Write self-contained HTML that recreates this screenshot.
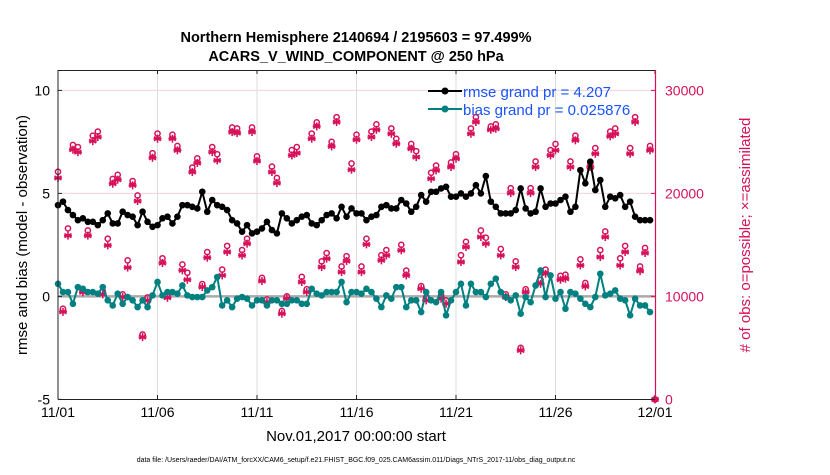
<!DOCTYPE html>
<html><head><meta charset="utf-8"><style>
body{margin:0;background:#fff;font-family:"Liberation Sans",sans-serif}
svg text{font-family:"Liberation Sans",sans-serif}
</style></head><body>
<svg id="c" width="830" height="470" xmlns="http://www.w3.org/2000/svg">
<text x="356" y="42" text-anchor="middle" font-size="14.5" font-weight="bold">Northern Hemisphere 2140694 / 2195603 = 97.499%</text>
<text x="356" y="61" text-anchor="middle" font-size="14.5" font-weight="bold">ACARS_V_WIND_COMPONENT @ 250 hPa</text>
<text transform="translate(27,235) rotate(-90)" text-anchor="middle" font-size="15">rmse and bias (model - observation)</text>
<text transform="translate(750,235) rotate(-90)" text-anchor="middle" font-size="15" fill="#d6115a"># of obs: o=possible; ×=assimilated</text>
<text x="356" y="441" text-anchor="middle" font-size="15">Nov.01,2017 00:00:00 start</text>
<text x="356" y="462" text-anchor="middle" font-size="7">data file: /Users/raeder/DAI/ATM_forcXX/CAM6_setup/f.e21.FHIST_BGC.f09_025.CAM6assim.011/Diags_NTrS_2017-11/obs_diag_output.nc</text>
<g id="grid"></g><g id="marks"></g><g id="axes"></g>
<g>
<line x1="428" y1="91" x2="462" y2="91" stroke="#000" stroke-width="2"/><circle cx="445" cy="91" r="3.5" fill="#000"/>
<line x1="428" y1="109" x2="462" y2="109" stroke="#008080" stroke-width="2"/><circle cx="445" cy="109" r="3.5" fill="#008080"/>
<text x="463" y="97" font-size="15" fill="#1a53ff">rmse grand pr = 4.207</text>
<text x="463" y="115" font-size="15" fill="#1a53ff">bias grand pr = 0.025876</text>
</g>
</svg>
<script>
const rmse=[4.43,4.6,4.19,3.95,3.7,3.79,3.62,3.62,3.46,3.7,4.03,3.54,3.54,4.11,3.95,3.87,3.46,4.11,3.62,3.38,3.46,3.79,3.87,3.54,3.87,4.43,4.43,4.35,4.27,5.08,4.11,4.68,4.43,4.35,4.19,3.7,3.54,3.14,3.46,3.06,3.14,3.3,3.62,3.22,3.06,4.03,3.79,3.54,3.7,3.87,3.95,3.54,3.46,3.7,3.95,4.03,3.79,4.35,3.87,4.27,4.03,4.03,3.7,3.87,3.95,4.35,4.43,4.27,4.27,4.68,4.51,4.11,4.35,4.92,4.6,5.08,5.08,5.24,5.32,4.84,4.84,5.0,4.84,5.0,5.4,5.0,5.84,4.6,4.35,4.03,4.03,4.03,4.19,5.24,4.27,4.03,4.11,5.24,4.35,4.51,4.51,4.68,4.84,4.11,4.35,6.13,5.49,6.54,5.16,5.65,4.35,4.84,4.76,4.92,4.35,4.6,3.87,3.7,3.7,3.7];
const bias=[0.61,0.21,0.21,-0.36,0.45,0.37,0.21,0.21,0.13,0.45,-0.19,-0.44,0.13,-0.36,-0.03,-0.19,-0.52,-0.19,-0.52,0.05,0.7,0.05,0.21,0.21,0.13,0.53,0.05,-0.03,-0.03,-0.03,0.29,0.45,0.94,-0.44,-0.19,-0.52,-0.11,-0.03,-0.11,-0.44,-0.19,-0.19,-0.44,-0.19,-0.19,-0.36,-0.36,-0.19,-0.19,-0.36,-0.36,0.37,0.13,0.05,0.21,0.21,0.21,0.7,-0.28,0.21,0.21,0.13,0.37,0.21,-0.11,-0.52,0.05,-0.11,0.45,0.45,-0.52,-0.19,-0.19,-0.76,0.21,-0.19,-0.28,0.21,-0.92,-0.19,0.21,0.61,-0.44,0.61,0.21,0.21,-0.03,0.61,0.86,0.21,-0.03,-0.19,0.05,-0.84,-0.03,-0.28,0.53,1.26,-0.03,1.02,-0.11,0.21,-0.6,0.21,0.13,-0.11,-0.36,-0.52,-0.03,1.1,0.05,0.13,0.29,-0.11,-0.19,-0.92,-0.11,-0.44,-0.44,-0.76];
const nAssim=[21500,8500,15900,24240,24000,10400,15900,25080,25470,10200,14950,20940,21330,9940,12800,20780,19260,6050,9610,23460,25310,13240,9870,25310,24180,12530,11620,22070,22950,10910,13760,24010,23200,12040,14310,25960,25860,13980,15120,25960,23140,11490,9450,22070,21000,8320,9780,23690,23920,11390,10420,25310,26500,12850,13660,24560,26930,12360,13430,22300,25210,12360,15050,25470,26180,13500,13980,25790,24820,14470,12040,24340,23530,10750,9610,21430,22230,9780,9290,22560,23370,13340,14790,25790,26930,15760,15120,26180,26280,13980,9940,20030,12850,4760,10420,20030,22560,11230,12200,23690,24180,11620,11720,22560,25150,13010,10970,22560,23850,13820,15760,25540,25790,13010,14310,23850,26930,12460,14210,24180,0];
const nPoss=[22100,8800,16600,24700,24500,10700,16400,25600,26000,10500,15600,21400,21800,10200,13500,21200,19800,6300,9900,23900,25800,13700,10100,25700,24600,13100,12300,22500,23400,11200,14300,24500,23800,12600,14900,26400,26300,14500,15600,26400,23600,11800,9700,22600,21500,8600,10000,24200,24500,11900,10700,25800,26900,13400,14200,25000,27400,12900,13900,22900,25700,12900,15600,26000,26700,14000,14500,26300,25300,15000,12500,24800,24100,11000,9900,22000,22700,10100,9600,23000,23800,14000,15300,26300,27400,16400,15700,26500,26700,14600,10200,20500,13400,5000,10700,20500,23100,11600,12600,24200,24800,12000,12100,23100,25600,13600,11300,23000,24400,14500,16300,26000,26300,13700,14900,24400,27400,12900,14700,24600,0];
const xTicks=["11/01","11/06","11/11","11/16","11/21","11/26","12/01"];
const yTicks=[10,5,0,-5];
const rTicks=[30000,20000,10000,0];
const NS="http://www.w3.org/2000/svg";
const X0=58,X1=655,Y10=90.4,Yn5=399.4;
const xs=i=>X0+i*(X1-X0)/120; // 6-hourly, 30 days
const xd=d=>X0+d*(X1-X0)/30;
const yl=v=>Y10+(10-v)*(Yn5-Y10)/15;
const yr=n=>Yn5-n*(Yn5-Y10)/30000;
function mk(t,a,p){const e=document.createElementNS(NS,t);for(const k in a)e.setAttribute(k,a[k]);(p||document.getElementById('marks')).appendChild(e);return e;}
const grid=document.getElementById('grid'),axes=document.getElementById('axes'),marks=document.getElementById('marks');
xTicks.forEach((t,i)=>{const x=xd(i*5);
 if(i>0&&i<6){const g=mk('line',{x1:x,y1:70,x2:x,y2:399,stroke:'#ddd','stroke-width':1},grid);}
 const tx=mk('text',{x:x,y:417,'text-anchor':'middle','font-size':14},axes);tx.textContent=t;
 
 
 mk('line',{x1:x,y1:399,x2:x,y2:395,stroke:'#222'},axes);mk('line',{x1:x,y1:70,x2:x,y2:74,stroke:'#222'},axes);
});
rTicks.forEach(n=>{const y=yr(n);
 if(n>0){const g=mk('line',{x1:X0,y1:y,x2:X1,y2:y,stroke:'#f5d0dc','stroke-width':1},grid);}
 const tx=mk('text',{x:665,y:y+5,'font-size':14,fill:'#d6115a'},axes);tx.textContent=n;
 
 
 mk('line',{x1:X1,y1:y,x2:X1-4,y2:y,stroke:'#d6115a'},axes);
});
yTicks.forEach(v=>{const y=yl(v);
 const tx=mk('text',{x:50,y:y+5,'text-anchor':'end','font-size':14},axes);tx.textContent=v;
 
 
 mk('line',{x1:X0,y1:y,x2:X0+4,y2:y,stroke:'#222'},axes);
});
const zl=mk('line',{x1:X0,y1:yl(0),x2:X1,y2:yl(0),stroke:'#aaa','stroke-width':2.5},grid);


const fr=mk('path',{d:`M${X0},399.5V70.5H${X1}`,fill:'none',stroke:'#222','stroke-width':1},axes);


mk('line',{x1:X0,y1:399.5,x2:X1,y2:399.5,stroke:'#222'},axes);
const ra=mk('line',{x1:X1+0.5,y1:70,x2:X1+0.5,y2:400,stroke:'#d6115a','stroke-width':1.2},axes);


function star(cx,cy){const g=mk('g',{stroke:'#d6115a','stroke-width':1.6});
 
 
 [[0,4],[3.5,2],[3.5,-2]].forEach(([dx,dy])=>mk('line',{x1:cx-dx,y1:cy-dy,x2:cx+dx,y2:cy+dy},g));
 mk('line',{x1:cx-4,y1:cy,x2:cx+4,y2:cy},g);}
nAssim.forEach((n,i)=>{const x=xs(i);
 const c=mk('circle',{cx:x,cy:yr(nPoss[i]),r:2.6,fill:'none',stroke:'#d6115a','stroke-width':1.5});
 
 
 star(x,yr(n));});
function series(arr,col,name){
 const p=mk('polyline',{points:arr.map((v,i)=>xs(i)+','+yl(v)).join(' '),fill:'none',stroke:col,'stroke-width':2});
 
 
 arr.forEach((v,i)=>{const c=mk('circle',{cx:xs(i),cy:yl(v),r:3.3,fill:col});
  
  });}
series(rmse,'#000','rmse');
series(bias,'#008080','bias');
</script>
</body></html>
